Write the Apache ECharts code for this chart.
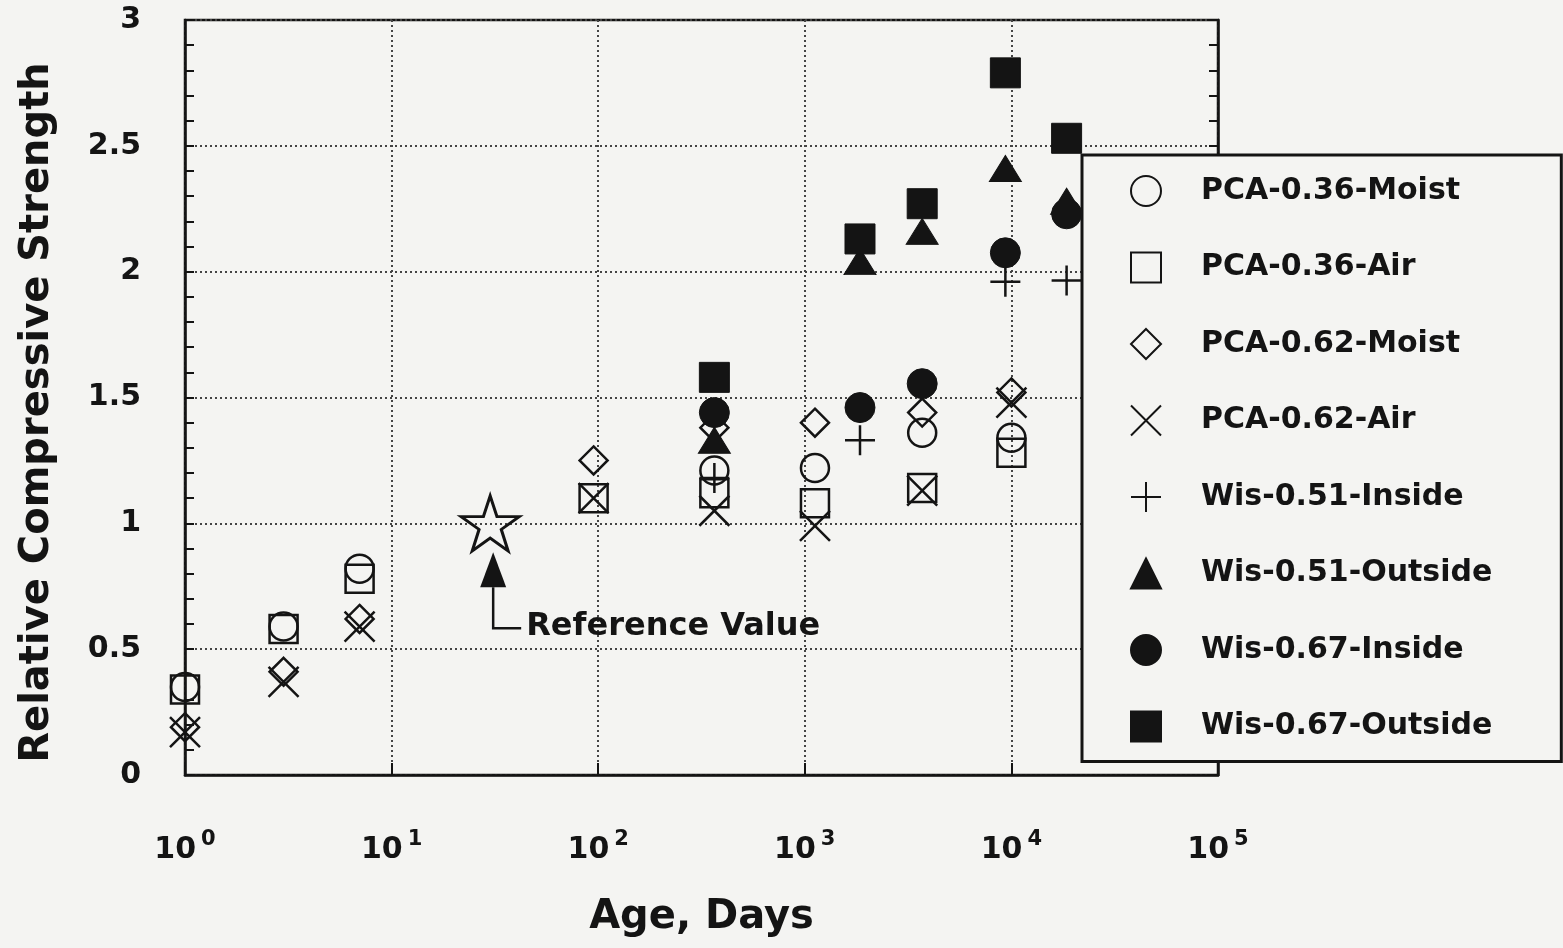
<!DOCTYPE html>
<html>
<head>
<meta charset="utf-8">
<script src="https://cdn.jsdelivr.net/npm/echarts@6/dist/echarts.min.js"></script>
<style>
  html, body { margin: 0; padding: 0; background: #f4f4f2; }
  #chart { width: 1563px; height: 948px; }
</style>
</head>
<body>
<div id="chart"></div>
<script>
// 相对抗压强度 vs 龄期 (对数坐标)
const seriesNames = ['PCA-0.36-Moist', 'PCA-0.36-Air', 'PCA-0.62-Moist', 'PCA-0.62-Air',
                     'Wis-0.51-Inside', 'Wis-0.51-Outside', 'Wis-0.67-Inside', 'Wis-0.67-Outside'];

// [age in days, relative strength]
const pca036Moist = [[1, 0.35], [3, 0.59], [7, 0.82], [365, 1.21], [1120, 1.22], [3700, 1.36], [10000, 1.34]];
const pca036Air   = [[1, 0.34], [3, 0.58], [7, 0.78], [95, 1.10], [365, 1.12], [1120, 1.08], [3700, 1.14], [10000, 1.28]];
const pca062Moist = [[1, 0.19], [3, 0.41], [7, 0.62], [95, 1.25], [365, 1.38], [1120, 1.40], [3700, 1.44], [10000, 1.52]];
const pca062Air   = [[1, 0.17], [3, 0.37], [7, 0.59], [95, 1.10], [365, 1.05], [1120, 0.99], [3700, 1.13], [10000, 1.48]];
const wis051In    = [[365, 1.18], [1850, 1.33], [9350, 1.96], [18500, 1.965]];
const wis051Out   = [[365, 1.33], [1850, 2.04], [3700, 2.16], [9350, 2.41], [18500, 2.28]];
const wis067In    = [[365, 1.44], [1850, 1.46], [3700, 1.555], [9350, 2.075], [18500, 2.23]];
const wis067Out   = [[365, 1.58], [1850, 2.13], [3700, 2.27], [9350, 2.79], [18500, 2.53]];

const refPoint = [30, 1.0];
const refLabel = 'Reference Value';

const yTicks = [0, 0.5, 1, 1.5, 2, 2.5, 3];

const FONT = '"DejaVu Sans", "Liberation Sans", Arial, sans-serif';
const INK = '#141414';
const BG = '#f4f4f2';

const crossPath = 'path://M0,0L10,10M10,0L0,10';
const plusPath = 'path://M5,0L5,10M0,5L10,5';
const starPath = 'path://M50,2L61,36L97,36L68,57L79,92L50,71L21,92L32,57L3,36L39,36Z';

function hollow(name, data, symbol, size) {
    return {
        type: 'scatter', name: name, data: data, symbol: symbol, symbolSize: size,
        itemStyle: { color: 'transparent', borderColor: INK, borderWidth: 2.5, opacity: 1 }
    };
}
function solid(name, data, symbol, size) {
    return {
        type: 'scatter', name: name, data: data, symbol: symbol, symbolSize: size,
        itemStyle: { color: INK, borderColor: INK, borderWidth: 1, opacity: 1 }
    };
}

const series = [
    hollow(seriesNames[0], pca036Moist, 'circle', 28),
    hollow(seriesNames[1], pca036Air, 'rect', 28),
    hollow(seriesNames[2], pca062Moist, 'diamond', 28),
    hollow(seriesNames[3], pca062Air, crossPath, 30),
    hollow(seriesNames[4], wis051In, plusPath, 30),
    solid(seriesNames[5], wis051Out, 'triangle', [32, 26]),
    solid(seriesNames[6], wis067In, 'circle', 30),
    solid(seriesNames[7], wis067Out, 'rect', 30),
    {
        type: 'scatter', name: 'ref', data: [refPoint], symbol: starPath, symbolSize: [58, 55],
        itemStyle: { color: 'transparent', borderColor: INK, borderWidth: 3, opacity: 1 }
    }
];

const chart = echarts.init(document.getElementById('chart'));
chart.setOption({
    backgroundColor: BG,
    animation: false,
    textStyle: { fontFamily: FONT },
    grid: {
        left: 185, right: 345, top: 20, bottom: 173,
        outerBoundsMode: 'none', containLabel: false,
        show: true, borderColor: INK, borderWidth: 2.5, backgroundColor: 'transparent'
    },
    legend: {
        data: seriesNames,
        orient: 'vertical',
        left: 1082, top: 155,
        padding: [20, 69, 19, 48],
        itemGap: 44.5,
        itemWidth: 30, itemHeight: 30,
        backgroundColor: BG,
        borderColor: INK, borderWidth: 3,
        z: 20,
        textStyle: { fontSize: 30, fontWeight: 'bold', color: INK, padding: [0, 0, 0, 35], fontFamily: FONT }
    },
    xAxis: {
        type: 'log', logBase: 10, min: 1, max: 100000,
        name: 'Age, Days', nameLocation: 'middle', nameGap: 123,
        nameTextStyle: { fontSize: 40, fontWeight: 'bold', color: INK, fontFamily: FONT },
        axisLine: { show: true, lineStyle: { color: INK, width: 2.5 } },
        axisTick: { show: true, inside: true, length: 12, lineStyle: { color: INK, width: 2 } },
        minorTick: { show: false },
        splitLine: { show: true, lineStyle: { color: '#444', width: 2, type: [2, 3] } },
        axisLabel: {
            margin: 54,
            formatter: function (v) {
                return '{b|10}{s|' + Math.round(Math.log10(v)) + '}';
            },
            rich: {
                b: { fontSize: 30, fontWeight: 'bold', color: INK, fontFamily: FONT },
                s: { fontSize: 21, fontWeight: 'bold', color: INK, fontFamily: FONT, padding: [0, 0, 22, 5] }
            }
        }
    },
    yAxis: [{
        type: 'value', min: 0, max: 3, interval: 0.5,
        name: 'Relative Compressive Strength', nameLocation: 'middle', nameGap: 127,
        nameTextStyle: { fontSize: 40, fontWeight: 'bold', color: INK, fontFamily: FONT, padding: [0, 30, 0, 0] },
        axisLine: { show: true, lineStyle: { color: INK, width: 2.5 } },
        axisTick: { show: true, inside: true, length: 9, lineStyle: { color: INK, width: 2 } },
        minorTick: { show: true, splitNumber: 5, length: 9, lineStyle: { color: INK, width: 2 } },
        splitLine: { show: true, lineStyle: { color: '#444', width: 2, type: [2, 3] } },
        axisLabel: {
            margin: 44, fontSize: 30, fontWeight: 'bold', color: INK, fontFamily: FONT,
            formatter: function (v) { return yTicks.indexOf(v) >= 0 ? String(v) : ''; }
        }
    }, {
        type: 'value', min: 0, max: 3, interval: 0.5, position: 'right',
        axisLine: { show: true, lineStyle: { color: INK, width: 2.5 } },
        axisTick: { show: true, inside: true, length: 9, lineStyle: { color: INK, width: 2 } },
        minorTick: { show: true, splitNumber: 5, length: 9, lineStyle: { color: INK, width: 2 } },
        splitLine: { show: false },
        axisLabel: { show: false }
    }],
    series: series
});

// "Reference Value" 箭头注释, 位置由数据坐标换算
const p = chart.convertToPixel({ gridIndex: 0 }, refPoint);
const ax = p[0] + 3, tipY = p[1] + 29;
chart.setOption({
    graphic: [
        {
            type: 'polygon', z: 10,
            shape: { points: [[ax, tipY], [ax - 13, tipY + 35], [ax + 13, tipY + 35]] },
            style: { fill: INK }
        },
        {
            type: 'polyline', z: 10,
            shape: { points: [[ax, tipY + 35], [ax, tipY + 76], [ax + 28, tipY + 76]] },
            style: { stroke: INK, lineWidth: 2.5, fill: null }
        },
        {
            type: 'text', z: 10, x: ax + 33, y: tipY + 74,
            style: {
                text: refLabel, font: 'bold 32px ' + FONT, fill: INK,
                verticalAlign: 'middle'
            }
        }
    ]
});
</script>
</body>
</html>
